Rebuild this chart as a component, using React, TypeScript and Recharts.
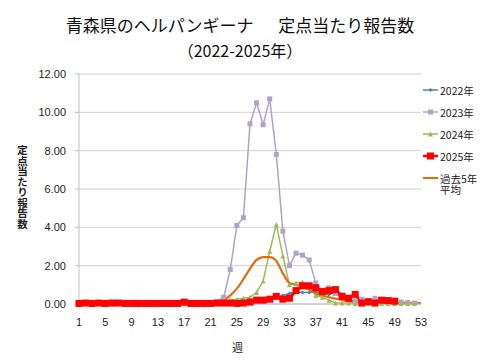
import React from 'react'
import { LineChart, Line, XAxis, YAxis, CartesianGrid } from 'recharts'

const weeks = [
  1, 2, 3, 4, 5, 6, 7, 8, 9, 10, 11, 12, 13, 14, 15, 16, 17, 18, 19, 20, 21, 22, 23, 24, 25, 26,
  27, 28, 29, 30, 31, 32, 33, 34, 35, 36, 37, 38, 39, 40, 41, 42, 43, 44, 45, 46, 47, 48, 49, 50,
  51, 52, 53,
]

const y2022 = [
  0, 0, 0, 0, 0, 0, 0, 0, 0, 0, 0, 0, 0, 0, 0, 0, 0, 0, 0, 0, 0, 0, 0, 0.02, 0.02, 0.05, 0.1,
  0.25, 0.15, 0.25, 0.35, 0.45, 0.55, 0.65, 0.6, 0.6, 0.65, 0.55, 0.5, 0.6, 0.3, 0.15, 0.1, 0.08,
  0.05, 0.05, 0.05, 0.03, 0.03, 0.02, 0.02, 0.02,
]

const y2023 = [
  0, 0.02, 0, 0.02, 0, 0, 0.02, 0, 0, 0, 0, 0, 0, 0, 0, 0, 0.02, 0, 0, 0, 0.05, 0.12, 0.35, 1.8,
  4.1, 4.5, 9.4, 10.5, 9.35, 10.7, 7.8, 3.8, 2.0, 2.65, 2.55, 2.3, 1.1, 0.7, 0.85, 0.55, 0.4,
  0.3, 0.15, 0.25, 0.15, 0.3, 0.15, 0.1, 0.1, 0.1, 0.08, 0.05,
]

const y2024 = [
  0.02, 0.02, 0.02, 0.02, 0.02, 0.02, 0.02, 0.02, 0.02, 0.02, 0.02, 0.02, 0.02, 0.02, 0.02, 0.02,
  0.02, 0.02, 0.02, 0.02, 0.02, 0.05, 0.1, 0.2, 0.25, 0.3, 0.35, 0.6, 1.2, 2.75, 4.15, 2.5, 1.0,
  1.1, 1.15, 0.9, 0.45, 0.35, 0.2, 0.05, 0.05, 0.05, 0.03, 0.03, 0.03, 0.03, 0.03, 0.03, 0.03,
  0.03, 0.03, 0.03,
]

const y2025 = [
  0.03, 0.05, 0.03, 0.05, 0.03, 0.05, 0.05, 0.03, 0.03, 0.03, 0.03, 0.03, 0.03, 0.03, 0.03, 0.03,
  0.1, 0.03, 0.03, 0.03, 0.03, 0.05, 0.05, 0.05, 0.03, 0.05, 0.1, 0.2, 0.2, 0.25, 0.4, 0.25, 0.3,
  0.7, 0.95, 0.95, 0.85, 0.65, 0.7, 0.75, 0.4, 0.3, 0.5, 0.05, 0.12, 0.05, 0.2, 0.18, 0.15,
]

const avg5 = [
  0.02, 0.02, 0.02, 0.02, 0.02, 0.02, 0.02, 0.02, 0.02, 0.02, 0.02, 0.02, 0.02, 0.02, 0.02, 0.02,
  0.02, 0.02, 0.02, 0.02, 0.05, 0.1, 0.2, 0.45, 0.8, 1.3, 1.85, 2.3, 2.45, 2.45, 2.25, 1.6, 1.1,
  1.0, 0.9, 0.75, 0.55, 0.45, 0.35, 0.28, 0.2, 0.15, 0.12, 0.1, 0.08, 0.08, 0.07, 0.06, 0.05,
  0.05, 0.05, 0.05, 0.05,
]

const yTicks = [0, 2, 4, 6, 8, 10, 12]

const data = weeks.map((w, i) => ({
  week: w,
  y2022: y2022[i] ?? null,
  y2023: y2023[i] ?? null,
  y2024: y2024[i] ?? null,
  y2025: y2025[i] ?? null,
  avg5: avg5[i] ?? null,
}))

const JP = '"Noto Sans CJK JP", "Noto Sans", sans-serif'

// marker shapes, drawn at the point the library gives us
function marker(kind: string, color: string, size: number) {
  return (props: any) => {
    const { cx, cy, key } = props
    if (cx == null || cy == null) return <g key={key} />
    const h = size / 2
    if (kind === 'diamond')
      return <polygon key={key} points={`${cx},${cy - h} ${cx + h},${cy} ${cx},${cy + h} ${cx - h},${cy}`} fill={color} />
    if (kind === 'triangle')
      return <polygon key={key} points={`${cx},${cy - h} ${cx + h},${cy + h} ${cx - h},${cy + h}`} fill={color} />
    return <rect key={key} x={cx - h} y={cy - h} width={size} height={size} fill={color} />
  }
}

const series = [
  { key: 'y2022', name: '2022年', color: '#4a7ebb', width: 1.5, kind: 'diamond', size: 4 },
  { key: 'y2023', name: '2023年', color: '#b3a2c7', width: 1.5, kind: 'square', size: 5 },
  { key: 'y2024', name: '2024年', color: '#9bbb59', width: 1.5, kind: 'triangle', size: 5 },
  { key: 'y2025', name: '2025年', color: '#ff0000', width: 3, kind: 'square', size: 7 },
]
const avgColor = '#e46c0a'

function LegendBox() {
  const items = [...series, { key: 'avg5', name: '過去5年\n平均', color: avgColor, width: 2, kind: '', size: 0 }]
  return (
    <div style={{ position: 'absolute', top: 79, left: 423, width: 57, fontFamily: JP, fontSize: 10.5, color: '#222' }}>
      {items.map(s => (
        <div key={s.key} style={{ height: 22, display: 'flex', alignItems: 'center' }}>
          <svg width={15} height={10} style={{ marginRight: 2, flex: 'none' }}>
            <line x1={0} y1={5} x2={15} y2={5} stroke={s.color} strokeWidth={Math.min(s.width, 2.5)} />
            {s.kind && marker(s.kind, s.color, s.size)({ cx: 7.5, cy: 5, key: 'm' })}
          </svg>
          <span style={{ lineHeight: '11px', whiteSpace: 'pre', marginTop: s.kind ? 0 : 11 }}>{s.name}</span>
        </div>
      ))}
    </div>
  )
}

export default function App() {
  return (
    <div style={{ position: 'absolute', left: 0, top: 0, width: 480, height: 360, background: '#fff' }}>
      <div style={{ position: 'absolute', top: 15, left: 0, width: 480, textAlign: 'center', fontFamily: JP, fontSize: 17, color: '#111', lineHeight: '20px', whiteSpace: 'pre' }}>
        {'青森県のヘルパンギーナ　  定点当たり報告数'}
      </div>
      <div style={{ position: 'absolute', top: 40, left: 0, width: 480, textAlign: 'center', fontFamily: JP, fontSize: 16, color: '#111', lineHeight: '20px' }}>
        （2022-2025年）
      </div>
      <div style={{ position: 'absolute', top: 145, left: 16, width: 12, fontFamily: JP, fontSize: 10.5, fontWeight: 700, color: '#222', writingMode: 'vertical-rl', lineHeight: '12px' }}>
        定点当たり報告数
      </div>
      <div style={{ position: 'absolute', top: 339, left: 232, fontFamily: JP, fontSize: 11, color: '#222' }}>週</div>
      <LineChart width={480} height={360} data={data} margin={{ top: 74, right: 59, bottom: 26, left: 0 }}>
        <CartesianGrid horizontal vertical={false} stroke="#d0d0d0" />
        <XAxis
          dataKey="week"
          interval={3}
          height={30}
          tickLine={false}
          tickMargin={8}
          stroke="#bfbfbf"
          tick={{ fill: '#222', fontSize: 11, fontFamily: 'Liberation Sans, sans-serif' }}
        />
        <YAxis
          width={79}
          domain={[0, 12]}
          ticks={yTicks}
          tickFormatter={(v: number) => v.toFixed(2)}
          tickSize={4}
          tickMargin={9}
          stroke="#bfbfbf"
          tick={{ fill: '#222', fontSize: 11, fontFamily: 'Liberation Sans, sans-serif' }}
        />
        {series.map(s => (
          <Line
            key={s.key}
            dataKey={s.key}
            name={s.name}
            stroke={s.color}
            strokeWidth={s.width}
            type="linear"
            dot={marker(s.kind, s.color, s.size)}
            activeDot={false}
            connectNulls={false}
            isAnimationActive={false}
          />
        ))}
        <Line
          dataKey="avg5"
          name={'過去5年\n平均'}
          stroke={avgColor}
          strokeWidth={2.2}
          type="monotone"
          dot={false}
          activeDot={false}
          isAnimationActive={false}
        />
      </LineChart>
      <LegendBox />
    </div>
  )
}
